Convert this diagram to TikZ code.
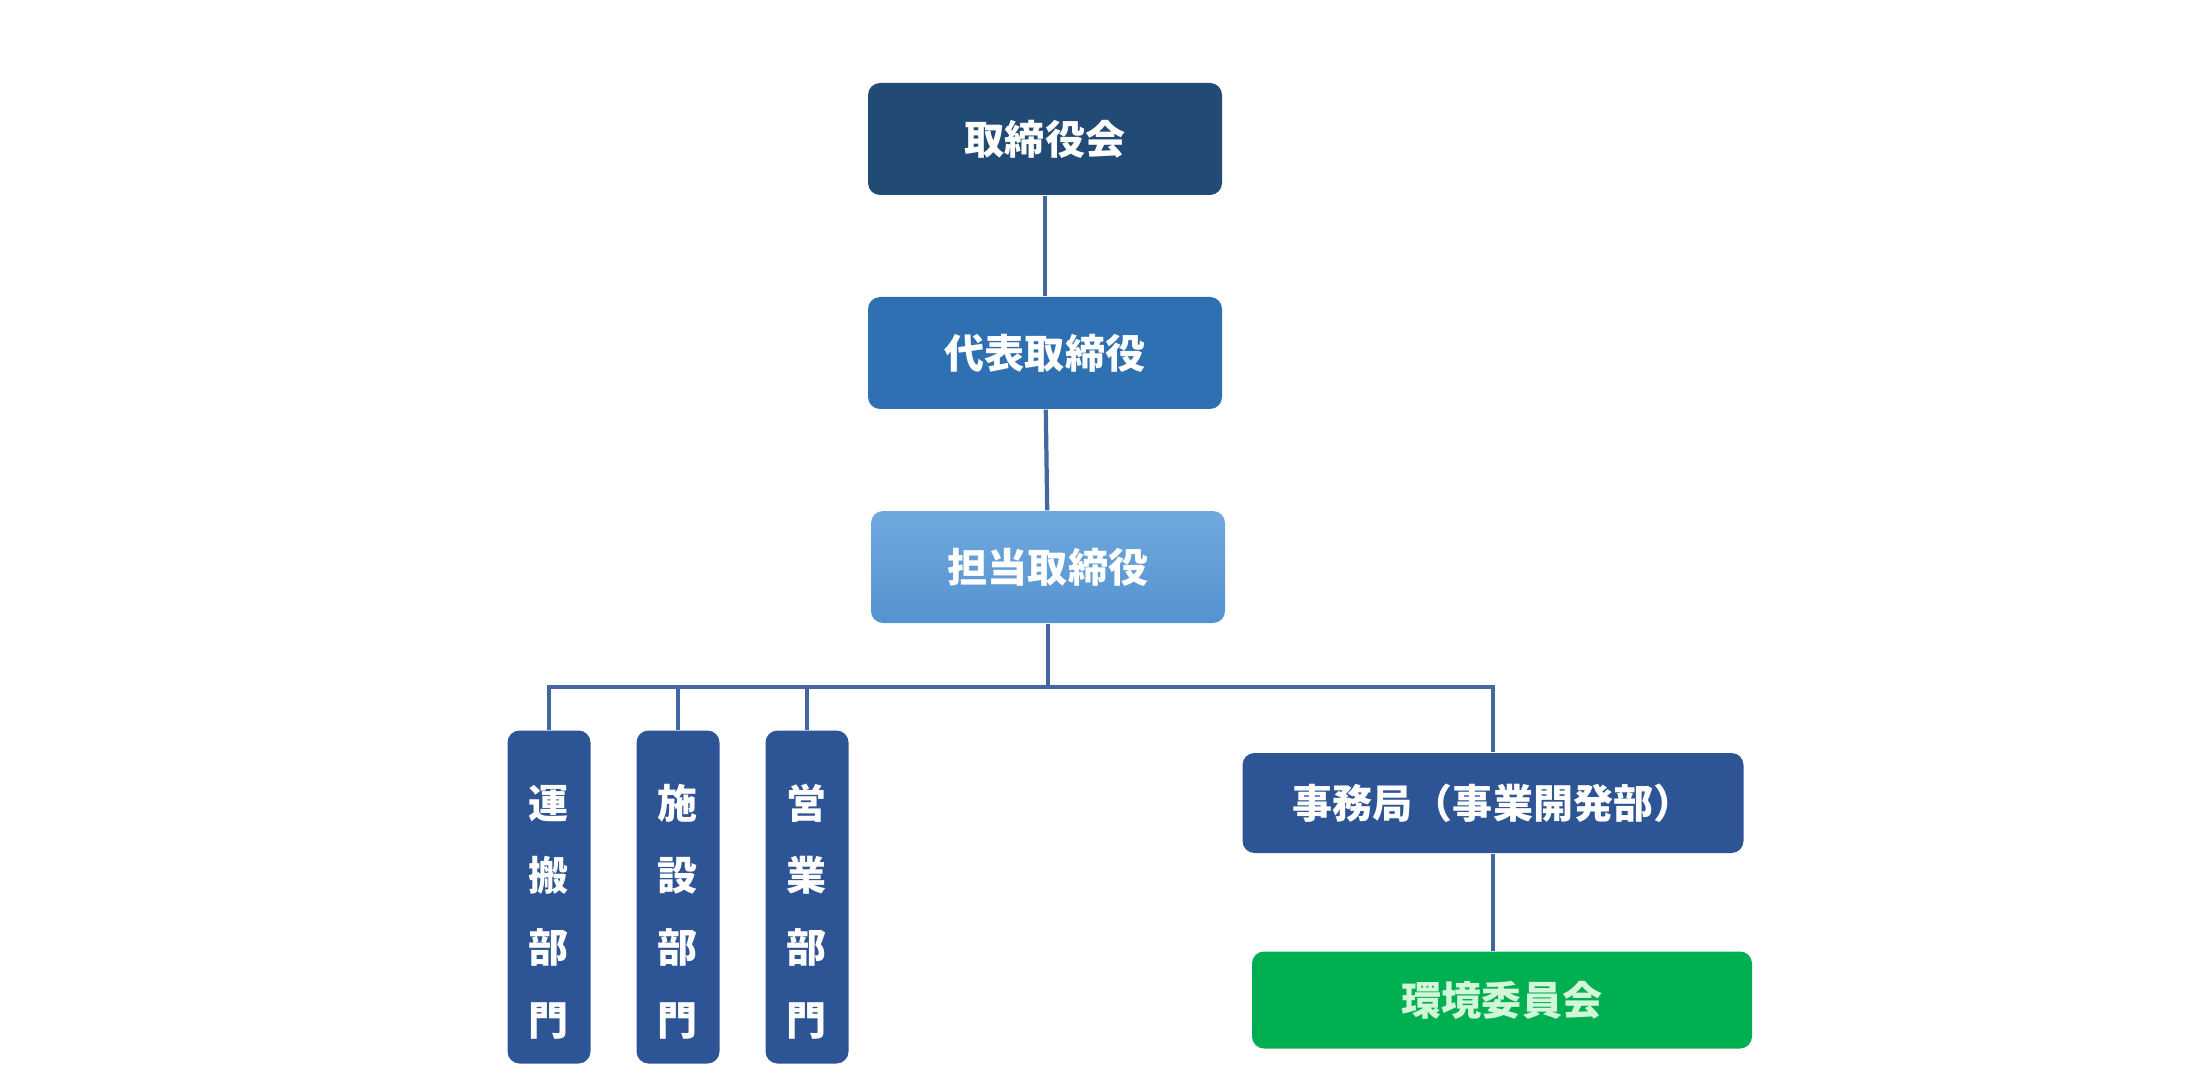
\documentclass[tikz,border=0pt]{standalone}
\usepackage{fontspec}
\usepackage{tikz}
\usetikzlibrary{positioning}
\newfontfamily\jp{Noto Sans CJK JP}
\newcommand{\toppad}{\rule{0pt}{0.63cm}}

\definecolor{boardblue}{HTML}{214B74}
\definecolor{ceoblue}{HTML}{2E70B1}
\definecolor{dirtop}{HTML}{70A9DF}
\definecolor{dirbottom}{HTML}{5592CF}
\definecolor{deptblue}{HTML}{2D5495}
\definecolor{envgreen}{HTML}{00B050}
\definecolor{envtext}{HTML}{D2F7D8}
\definecolor{linkblue}{HTML}{4467A0}

\tikzset{
  box/.style={rounded corners=0.12cm, text=white, inner sep=0pt,
    minimum width=3.54cm, minimum height=1.12cm,
    font=\jp\bfseries\fontsize{11.4}{13}\selectfont},
  tallbox/.style={box, fill=deptblue, minimum width=0.83cm, minimum height=3.33cm,
    align=center, font=\jp\bfseries\fontsize{11.4}{20.6}\selectfont},
  link/.style={draw=linkblue, line width=1.2pt}
}

\begin{document}
\begin{tikzpicture}[node distance=2.14cm]
      \useasboundingbox (0,0) rectangle (22,10.82);

      \node [box, fill=boardblue] (1) at (10.45,9.43) {取締役会};
      \node [box, fill=ceoblue, below of=1] (2) {代表取締役};
      \node [box, top color=dirtop, bottom color=dirbottom, below of=2, xshift=0.03cm] (3) {担当取締役};

      \node [tallbox] (4) at (5.49,1.85) {\toppad 運\\搬\\部\\門};
      \node [tallbox, right of=4, xshift=-0.85cm] (5) {\toppad 施\\設\\部\\門};
      \node [tallbox, right of=5, xshift=-0.85cm] (6) {\toppad 営\\業\\部\\門};

      \node [box, fill=deptblue, minimum width=5.01cm, minimum height=1.0cm] (7) at (14.93,2.79) {事務局（事業開発部）};
      \node [box, fill=envgreen, text=envtext, minimum width=5.0cm, minimum height=0.97cm,
             below of=7, xshift=0.09cm, yshift=0.17cm] (8) {環境委員会};

      \coordinate (bus) at (10.48,3.95);

      \draw[link] (1) -- (2);
      \draw[link] (2) -- (3);
      \draw[link] (3) -- (bus);
      \draw[link] (4.north) |- (bus) -| (7.north);
      \draw[link] (5.north) -- (5.north |- bus);
      \draw[link] (6.north) -- (6.north |- bus);
      \draw[link] (7.south) -- (7.south |- 8.north);
    \end{tikzpicture}
\end{document}
